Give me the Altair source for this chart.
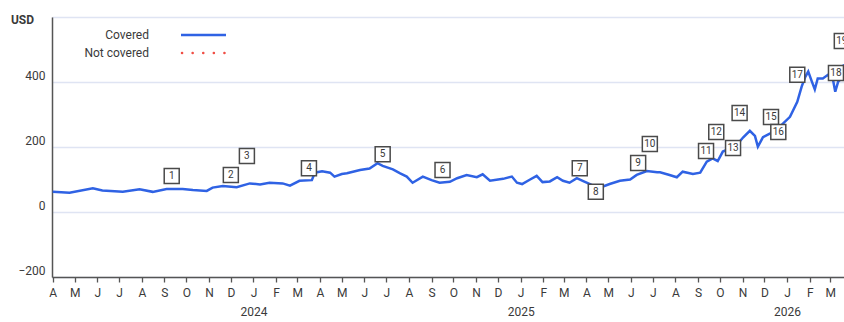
import altair as alt
import pandas as pd

# ---- data ----
dates = [
    "2023-04-01", "2023-04-24", "2023-05-26", "2023-06-08", "2023-07-06", "2023-07-29",
    "2023-08-16", "2023-09-04", "2023-09-26", "2023-10-10", "2023-10-29", "2023-11-06",
    "2023-11-20", "2023-12-09", "2023-12-27", "2024-01-10", "2024-01-23", "2024-02-10",
    "2024-02-20", "2024-03-04", "2024-03-21", "2024-03-25", "2024-04-04", "2024-04-15",
    "2024-04-21", "2024-05-01", "2024-05-08", "2024-05-26", "2024-06-08", "2024-06-19",
    "2024-06-26", "2024-07-10", "2024-07-20", "2024-07-29", "2024-08-06", "2024-08-20",
    "2024-09-01", "2024-09-12", "2024-09-26", "2024-10-06", "2024-10-19", "2024-11-02",
    "2024-11-10", "2024-11-20", "2024-12-08", "2024-12-20", "2024-12-27", "2025-01-03",
    "2025-01-14", "2025-01-23", "2025-01-31", "2025-02-10", "2025-02-20", "2025-02-28",
    "2025-03-09", "2025-03-19", "2025-03-27", "2025-04-06", "2025-04-15", "2025-04-23",
    "2025-05-03", "2025-05-17", "2025-05-31", "2025-06-09", "2025-06-23", "2025-07-07",
    "2025-07-11", "2025-07-24", "2025-08-03", "2025-08-11", "2025-08-25", "2025-09-04",
    "2025-09-13", "2025-09-21", "2025-09-28", "2025-10-05", "2025-10-15", "2025-10-24",
    "2025-11-02", "2025-11-11", "2025-11-18", "2025-11-22", "2025-11-29", "2025-12-09",
    "2025-12-18", "2025-12-26", "2026-01-05", "2026-01-15", "2026-01-21", "2026-01-26",
    "2026-01-30", "2026-02-04", "2026-02-08", "2026-02-12", "2026-02-19", "2026-02-26",
    "2026-03-05", "2026-03-08", "2026-03-12", "2026-03-17", "2026-03-20",
]
covered = [
    62, 59, 73, 66, 62, 70,
    62, 71, 71, 68, 65, 75,
    80, 76, 88, 85, 90, 88,
    81, 96, 98, 121, 125, 121,
    109, 117, 119, 129, 134, 150,
    142, 131, 119, 109, 90, 109,
    98, 90, 93, 104, 114, 107,
    116, 96, 102, 109, 90, 86,
    100, 111, 92, 94, 107, 96,
    90, 104, 96, 86, 76, 78,
    86, 96, 100, 114, 126, 122,
    122, 114, 107, 124, 117, 121,
    155, 165, 157, 186, 196, 206,
    230, 250, 234, 201, 230, 242,
    254, 271, 293, 339, 386, 416,
    432, 401, 377, 411, 411, 422,
    406, 370, 401, 411, 455,
]

note_ids = [str(i) for i in range(1, 20)]
note_dates = [
    "2023-09-11", "2023-12-01", "2023-12-23", "2024-03-17", "2024-06-26", "2024-09-16",
    "2025-03-23", "2025-04-14", "2025-06-11", "2025-06-27", "2025-09-12", "2025-09-26",
    "2025-10-19", "2025-10-28", "2025-12-10", "2025-12-20", "2026-01-15", "2026-03-09",
    "2026-03-17",
]
note_values = [111, 114, 172, 135, 178, 129, 135, 62, 151, 209, 188, 246,
               197, 305, 292, 246, 422, 428, 526]

y_ticks = [-200, 0, 200, 400, 600]
legend_labels = ["Covered", "Not covered"]
legend_colors = ["#2f62e4", "#f04e45"]

FONT = "Roboto"
TXT = "#3a3a3a"
W, H = 792, 260

line_df = pd.DataFrame({"date": dates, "value": covered})
note_df = pd.DataFrame({"id": note_ids, "date": note_dates, "value": note_values})

x_scale = alt.Scale(domain=["2023-03-31", "2026-03-20"])
y_scale = alt.Scale(domain=[-200, 600], nice=False)

x_axis = alt.Axis(
    title=None,
    tickCount={"interval": "month", "step": 1},
    labelExpr="month(datum.value) == 0 ? [substring(timeFormat(datum.value, '%b'), 0, 1), timeFormat(datum.value, '%Y')] : substring(timeFormat(datum.value, '%b'), 0, 1)",
    labelLineHeight=19,
    labelPadding=5,
    labelFontSize=12,
    labelColor=TXT,
    labelFont=FONT,
    labelFlush=False,
    labelOverlap=False,
    tickSize=5,
    tickColor="#555",
    tickWidth=1.3,
    domainColor="#555",
    domainWidth=1.5,
    grid=False,
)
y_axis = alt.Axis(
    title="USD",
    titleAngle=0,
    titleX=-30,
    titleY=2,
    titleAlign="center",
    titleBaseline="middle",
    titleFont=FONT,
    titleFontSize=12,
    titleFontWeight="bold",
    titleColor=TXT,
    values=y_ticks,
    labelExpr="datum.value == 600 ? '' : datum.label",
    labelOffset=-7,
    labelPadding=7,
    labelFlush=False,
    labelFontSize=12,
    labelColor=TXT,
    labelFont=FONT,
    tickSize=0,
    domainColor="#555",
    domainWidth=1.5,
    grid=True,
    gridColor="#dfe4f3",
    gridWidth=1.5,
)

line = alt.Chart(line_df).mark_line(
    color=legend_colors[0], strokeWidth=2.5, clip=True, interpolate="linear"
).encode(
    x=alt.X("date:T", scale=x_scale, axis=x_axis),
    y=alt.Y("value:Q", scale=y_scale, axis=y_axis),
)

boxes = alt.Chart(note_df).mark_point(
    shape="square", size=225, filled=True, fill="white", stroke="#4a4a4a",
    strokeWidth=1.5, opacity=1, clip=True
).encode(x=alt.X("date:T", scale=x_scale), y=alt.Y("value:Q", scale=y_scale))

labels = alt.Chart(note_df).mark_text(
    font=FONT, fontSize=10, color=TXT, align="center", baseline="middle", clip=True
).encode(x=alt.X("date:T", scale=x_scale), y=alt.Y("value:Q", scale=y_scale), text="id:N")

legend_layers = []
for i, (lab, col) in enumerate(zip(legend_labels, legend_colors)):
    ly = 18 + 18 * i
    ldf = pd.DataFrame({"label": [lab]})
    legend_layers.append(
        alt.Chart(ldf).mark_text(
            font=FONT, fontSize=12, color=TXT, align="right", baseline="middle"
        ).encode(x=alt.value(97), y=alt.value(ly), text="label:N")
    )
    if i == 0:
        rule = alt.Chart(ldf).mark_rule(color=col, strokeWidth=2.5).encode(
            x=alt.value(129), x2=alt.value(174), y=alt.value(ly)
        )
    else:
        rule = alt.Chart(ldf).mark_rule(
            color=col, strokeWidth=2.5, strokeDash=[0.1, 10.5], strokeCap="round"
        ).encode(x=alt.value(130), x2=alt.value(175), y=alt.value(ly))
    legend_layers.append(rule)

chart = alt.layer(line, boxes, labels, *legend_layers).properties(
    width=W, height=H,
    autosize=alt.AutoSizeParams(type="none"),
    padding={"left": 52, "top": 17, "right": 0, "bottom": 45},
).configure_view(stroke=None).configure(background="white")

chart.save("out.html", embed_options={"renderer": "svg", "actions": False})
